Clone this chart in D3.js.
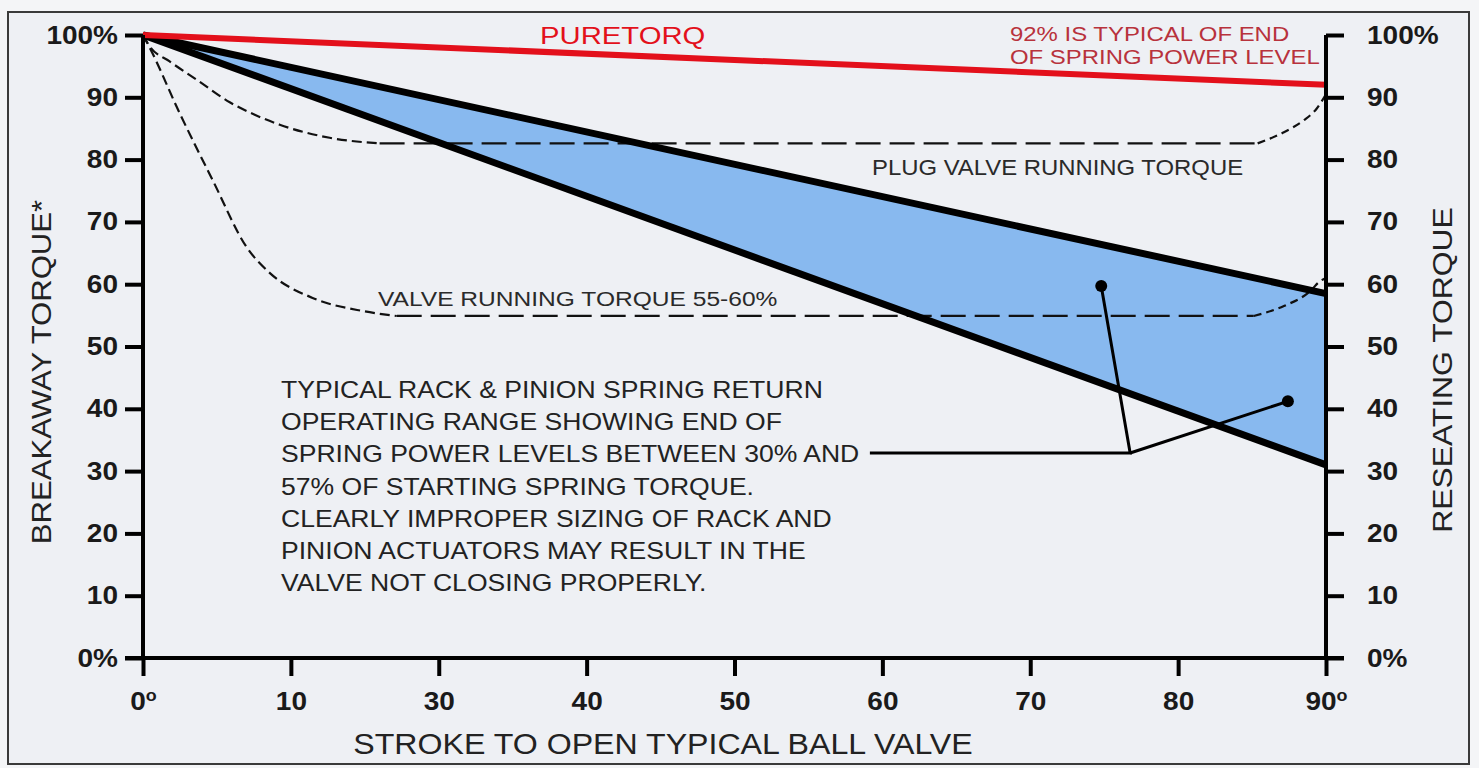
<!DOCTYPE html>
<html><head><meta charset="utf-8">
<script src="https://cdn.jsdelivr.net/npm/d3@7"></script>
<style>
html,body{margin:0;padding:0;background:#f4f5f7;}
svg{display:block;font-family:"Liberation Sans",Arial,sans-serif;}
</style></head>
<body>
<svg id="chart" width="1479" height="768"></svg>
<script>
// ---- data ----
const xTickLabels = ["0","10","30","40","50","60","70","80","90"];
const yTickValues = [0,10,20,30,40,50,60,70,80,90,100];
const puretorq = [[0,100],[90,92]];
const springUpper = [[0,100],[90,58.5]];
const springLower = [[0,100],[90,31]];
const plugValve = [[0,100],[0.5,98.2],[2,95.8],[4.1,92.8],[6.6,89.2],[8.5,87.2],[10.4,85.6],[14.2,83.5],[18,82.6],[30,82.6],[50,82.6],[70,82.6],[84.8,82.6],[86.8,84.4],[88.3,86.3],[89.3,88.2],[90,90.5]];
const ballValve = [[0,100],[0.5,98],[2.8,87.4],[5.3,76.7],[7.9,65.9],[9.7,61.7],[12.9,57.8],[16.7,55.7],[19.3,54.9],[40,54.9],[60,54.9],[84.5,54.9],[86.8,56.5],[88.8,58.9],[89.5,60.4],[90,61]];
const leaderDots = [[72.9,59.7],[87.1,41.2]];
const leaderJoint = [75.1,32.9];
const leaderStart = [55.3,32.9];
const noteLines = ["TYPICAL RACK & PINION SPRING RETURN","OPERATING RANGE SHOWING END OF","SPRING POWER LEVELS BETWEEN 30% AND","57% OF STARTING SPRING TORQUE.","CLEARLY IMPROPER SIZING OF RACK AND","PINION ACTUATORS MAY RESULT IN THE","VALVE NOT CLOSING PROPERLY."];

const svg = d3.select("#chart");
const x = d3.scaleLinear().domain([0,90]).range([143,1326]);
const y = d3.scaleLinear().domain([0,100]).range([658,35]);

// background & frame
svg.append("rect").attr("x",8).attr("y",12).attr("width",1461).attr("height",752)
  .attr("fill","#eef0f4").attr("stroke","#3a3a3a").attr("stroke-width",2);

// blue band
const band = d3.area().x(d=>x(d[0])).y0((d,i)=>y(springLower[i][1])).y1(d=>y(d[1]));
svg.append("path").datum(springUpper).attr("d",band).attr("fill","#88b9ef");

const line = d3.line().x(d=>x(d[0])).y(d=>y(d[1])).curve(d3.curveMonotoneX);
function dashed(data, a, b){
  const parts = [
    {pts:data.filter(d=>d[0]<=a), dash:"10,5"},
    {pts:data.filter(d=>d[0]>=a && d[0]<=b), dash:"25,9"},
    {pts:data.filter(d=>d[0]>=b), dash:"8,5"}
  ];
  parts.forEach(p=>{
    svg.append("path").datum(p.pts).attr("d",line).attr("fill","none")
      .attr("stroke","#111").attr("stroke-width",2.2).attr("stroke-dasharray",p.dash);
  });
}
dashed(plugValve,18,84.8);
dashed(ballValve,19.3,84.5);

const straight = d3.line().x(d=>x(d[0])).y(d=>y(d[1]));
svg.append("path").datum(springUpper).attr("d",straight).attr("stroke","#000").attr("stroke-width",7).attr("fill","none");
svg.append("path").datum(springLower).attr("d",straight).attr("stroke","#000").attr("stroke-width",7).attr("fill","none");
svg.append("path").datum(puretorq).attr("d",straight).attr("stroke","#e3101b").attr("stroke-width",6).attr("fill","none");

// leader lines
svg.append("path").datum([leaderStart,leaderJoint,leaderDots[0]]).attr("d",straight).attr("stroke","#000").attr("stroke-width",3).attr("fill","none");
svg.append("path").datum([leaderJoint,leaderDots[1]]).attr("d",straight).attr("stroke","#000").attr("stroke-width",3).attr("fill","none");
svg.selectAll(".dot").data(leaderDots).join("circle").attr("cx",d=>x(d[0])).attr("cy",d=>y(d[1])).attr("r",6).attr("fill","#000");

// axes
const left = svg.append("g").attr("transform",`translate(${x(0)},0)`)
  .call(d3.axisLeft(y).tickValues(yTickValues).tickSize(18).tickPadding(7)
    .tickFormat(d=> d===0||d===100 ? d+"%" : d));
const right = svg.append("g").attr("transform",`translate(${x(90)},0)`)
  .call(d3.axisRight(y).tickValues(yTickValues).tickSize(18).tickPadding(23)
    .tickFormat(d=> d===0||d===100 ? d+"%" : d));
const xt = d3.range(xTickLabels.length).map(i=>i*90/(xTickLabels.length-1));
const bottom = svg.append("g").attr("transform",`translate(0,${y(0)})`)
  .call(d3.axisBottom(x).tickValues(xt).tickSize(18).tickPadding(16).tickFormat((d,i)=>xTickLabels[i]));
[left,right,bottom].forEach(g=>{
  g.select(".domain").attr("stroke","#000").attr("stroke-width",4);
  g.selectAll(".tick line").attr("stroke","#000").attr("stroke-width",4);
  g.selectAll("text").attr("font-family","Liberation Sans, Arial, sans-serif")
    .attr("font-size",25).attr("font-weight","bold").attr("fill","#1a1a1a")
    .each(function(){
      const t = d3.select(this);
      const tx = +t.attr("x") || 0;
      t.attr("x",0).attr("transform",`translate(${tx},0) scale(1.12,1)`);
    });
});
left.select(".domain").attr("d",`M0,${y(100)}V${y(0)}`);
right.select(".domain").attr("d",`M0,${y(100)}V${y(0)}`);
bottom.select(".domain").attr("d",`M${x(0)-18},0H${x(90)+18}`);
bottom.selectAll(".tick text").each(function(d,i){
  if(i===0||i===xTickLabels.length-1){
    d3.select(this).append("tspan").attr("font-size",16).attr("dy",-9).text("o");
  }
});

// texts
const txt = (s,xx,yy,o={})=>{
  const t = svg.append("text").attr("x",0).attr("y",0).text(s)
    .attr("font-size",o.size||20).attr("fill",o.fill||"#222")
    .attr("text-anchor",o.anchor||"start")
    .attr("transform",`translate(${xx},${yy}) rotate(${o.rotate||0}) scale(${o.sx||1},1)`);
  return t;
};
txt("PURETORQ",540,44,{size:24,sx:1.22,fill:"#e3101b"});
txt("92% IS TYPICAL OF END",1010,41,{size:21,sx:1.14,fill:"#b8323c"});
txt("OF SPRING POWER LEVEL",1010,64,{size:21,sx:1.14,fill:"#b8323c"});
txt("PLUG VALVE RUNNING TORQUE",872,175,{size:22,sx:1.086,fill:"#2a2a2a"});
txt("VALVE RUNNING TORQUE 55-60%",378,306,{size:21,sx:1.17,fill:"#2a2a2a"});
noteLines.forEach((s,i)=>txt(s,281,398+i*32.2,{size:23,sx:1.155,fill:"#222"}));
txt("STROKE TO OPEN TYPICAL BALL VALVE",663,754,{size:29,sx:1.108,anchor:"middle",fill:"#222"});
txt("BREAKAWAY TORQUE*",51,372,{size:28,sx:1.11,anchor:"middle",rotate:-90,fill:"#222"});
txt("RESEATING TORQUE",1452,370,{size:28,sx:1.138,anchor:"middle",rotate:-90,fill:"#222"});
</script>
</body></html>
